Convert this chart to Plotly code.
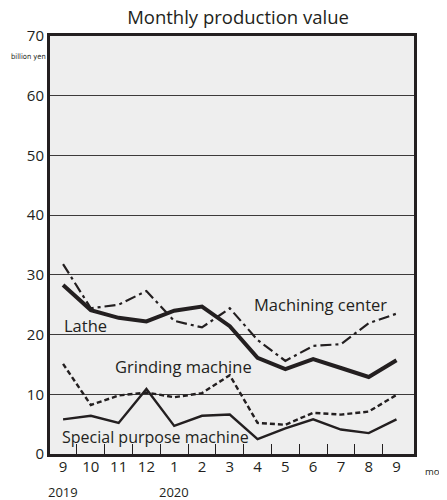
import plotly.graph_objects as go

months = ["9", "10", "11", "12", "1", "2", "3", "4", "5", "6", "7", "8", "9"]
years = ["2019", "2020"]
year_pos = [0, 4]

lathe = [28.3, 24.1, 22.8, 22.2, 24.0, 24.7, 21.4, 16.1, 14.2, 15.9, 14.4, 12.9, 15.7]
machining = [31.8, 24.4, 25.0, 27.3, 22.3, 21.2, 24.4, 19.1, 15.6, 18.1, 18.4, 21.9, 23.5]
grinding = [15.1, 8.2, 9.8, 10.3, 9.5, 10.2, 13.2, 5.2, 4.9, 6.9, 6.6, 7.1, 9.9]
special = [5.8, 6.4, 5.2, 10.9, 4.7, 6.4, 6.6, 2.5, 4.3, 5.8, 4.1, 3.5, 5.8]

x = list(range(len(months)))
ink = "#231f20"
FONT = "Open Sans"

fig = go.Figure()
fig.add_trace(go.Scatter(x=x, y=machining, mode="lines",
                         line=dict(color=ink, width=2.2, dash="11px,4px,3px,4px")))
fig.add_trace(go.Scatter(x=x, y=grinding, mode="lines",
                         line=dict(color=ink, width=2.4, dash="5px,3px")))
fig.add_trace(go.Scatter(x=x, y=special, mode="lines",
                         line=dict(color=ink, width=2.4)))
fig.add_trace(go.Scatter(x=x, y=lathe, mode="lines",
                         line=dict(color=ink, width=4)))
# invisible trace for the secondary axis carrying the boundary ticks
fig.add_trace(go.Scatter(x=[x[0], x[-1]], y=[0, 0], mode="lines", xaxis="x2",
                         line=dict(width=0), hoverinfo="skip", showlegend=False))

xr = [-0.47, 12.63]
# the page body has an 8px margin, so the figure is placed at (8, 8)
fig.update_layout(
    width=439, height=492,
    margin=dict(l=42, r=33, t=28, b=46),
    paper_bgcolor="white", plot_bgcolor="#eeeeee",
    showlegend=False,
    font=dict(family=FONT, color=ink),
    title=dict(text="Monthly production value", x=0.524, xanchor="center",
               y=0.981, yanchor="middle", font=dict(size=18.5, color=ink, family=FONT)),
    xaxis=dict(range=xr, tickmode="array", tickvals=x, ticktext=months,
               ticks="", showgrid=False, zeroline=False,
               showline=True, linewidth=3, linecolor=ink, mirror=True,
               tickfont=dict(size=15, color=ink), ticklabelstandoff=-3),
    xaxis2=dict(range=xr, overlaying="x", side="bottom", tickmode="array",
                tickvals=[i + 0.5 for i in x[:-1]], ticks="inside", ticklen=10,
                tickwidth=1.3, tickcolor=ink, showticklabels=False,
                showgrid=False, zeroline=False, showline=False),
    yaxis=dict(range=[0, 70], dtick=10, showgrid=True, gridcolor="#3c3a3a",
               gridwidth=1, zeroline=False, ticks="",
               showline=True, linewidth=3, linecolor=ink, mirror=True,
               tickfont=dict(size=15, color=ink)),
)

ann = []
for yv, p in zip(years, year_pos):
    ann.append(dict(x=p, y=-0.091, xref="x", yref="paper", text=yv, showarrow=False,
                    font=dict(size=13, color=ink), xanchor="center", yanchor="middle"))
lab = dict(size=16.5, color=ink)
ann += [
    dict(x=0, y=0.95, xref="paper", yref="paper", text="billion yen", showarrow=False,
         font=dict(size=7.5, color=ink, family="DejaVu Sans Condensed, Liberation Sans Narrow, sans-serif"),
         xanchor="right", yanchor="middle", xshift=-3, borderpad=0),
    dict(x=1.025, y=-0.041, xref="paper", yref="paper", text="month", showarrow=False,
         font=dict(size=9.5, color=ink), xanchor="left", yanchor="middle"),
    dict(x=6.8, y=25.0, xref="x", yref="y", text="Machining center", showarrow=False,
         font=lab, xanchor="left", yanchor="middle"),
    dict(x=-0.05, y=21.6, xref="x", yref="y", text="Lathe", showarrow=False,
         font=lab, xanchor="left", yanchor="middle"),
    dict(x=1.8, y=14.7, xref="x", yref="y", text="Grinding machine", showarrow=False,
         font=lab, xanchor="left", yanchor="middle"),
    dict(x=-0.1, y=2.85, xref="x", yref="y", text="Special purpose machine", showarrow=False,
         font=dict(size=16, color=ink), xanchor="left", yanchor="middle"),
]
fig.update_layout(annotations=ann)

fig.write_html("out.html")
